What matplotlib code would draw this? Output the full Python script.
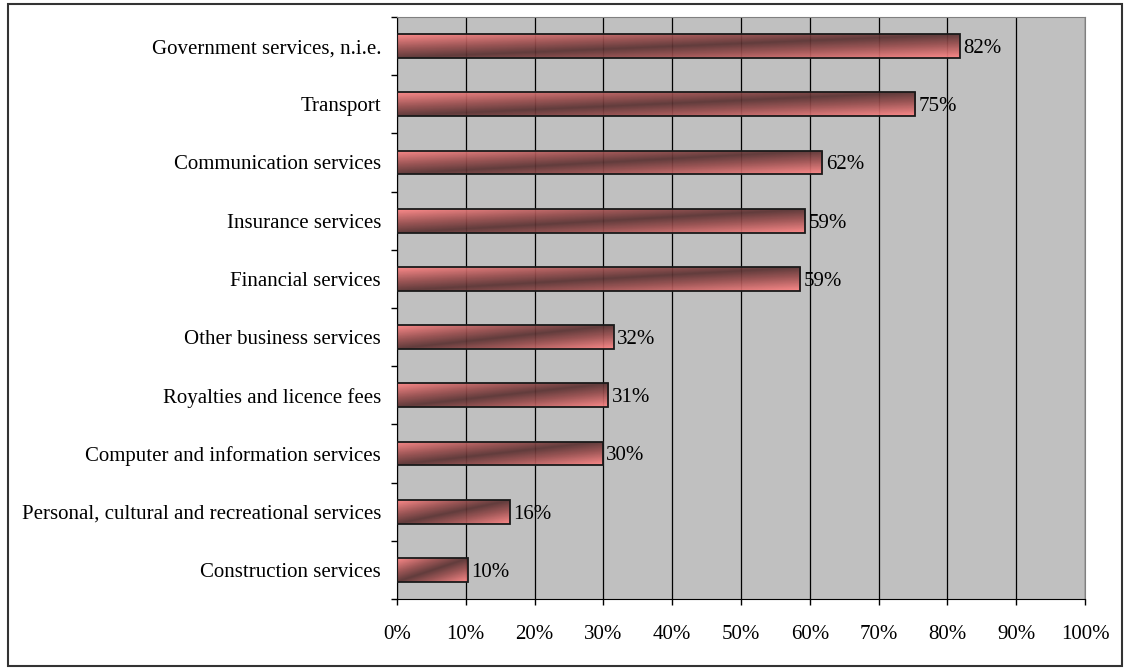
import numpy as np
import matplotlib
matplotlib.use("Agg")
import matplotlib.pyplot as plt
import matplotlib.patches as mpatches
from matplotlib.colors import LinearSegmentedColormap

plt.rcParams["font.family"] = ["Liberation Serif", "DejaVu Serif"]
plt.rcParams["font.size"] = 15

categories = [
    "Government services, n.i.e.",
    "Transport",
    "Communication services",
    "Insurance services",
    "Financial services",
    "Other business services",
    "Royalties and licence fees",
    "Computer and information services",
    "Personal, cultural and recreational services",
    "Construction services",
]
shares = [81.8, 75.3, 61.8, 59.3, 58.6, 31.5, 30.7, 29.9, 16.4, 10.3]
x_ticks = [0, 10, 20, 30, 40, 50, 60, 70, 80, 90, 100]

fig = plt.figure(figsize=(11.24, 6.68), dpi=100)
ax = fig.add_axes([0.3532, 0.1033, 0.6121, 0.8713])
ax.set_facecolor("#C0C0C0")

# frame around the whole figure
fig.patches.append(mpatches.Rectangle((0.007, 0.003), 0.991, 0.991, transform=fig.transFigure,
                                      fill=False, edgecolor="#333333", linewidth=1.5))

n = len(categories)
ypos = np.arange(n)[::-1]
bars = ax.barh(ypos, shares, height=0.41, facecolor="none", edgecolor="#1a1a1a",
               linewidth=1.3, zorder=3)

# diagonal light-dark-light gradient inside each bar
grad_cmap = LinearSegmentedColormap.from_list(
    "bar", [(0.0, "#FF8585"), (0.3, "#9A4E4E"), (0.5, "#5A3232"), (0.7, "#9A4E4E"), (1.0, "#FF8585")])
gx, gy = np.meshgrid(np.linspace(0, 1, 200), np.linspace(0, 1, 40))
grad = (gx + gy) / 2.0
for b in bars:
    x0, y0, w, h = b.get_x(), b.get_y(), b.get_width(), b.get_height()
    im = ax.imshow(grad, cmap=grad_cmap, extent=[x0, x0 + w, y0, y0 + h], origin="upper",
                   aspect="auto", interpolation="bilinear", zorder=2, alpha=0.93)
    im.set_clip_path(b)

for b, v in zip(bars, shares):
    ax.annotate(f"{v:.0f}%", xy=(v, b.get_y() + b.get_height() / 2), xytext=(2.5, 0),
                textcoords="offset points", va="center_baseline", ha="left", zorder=4)

ax.set_xlim(0, 100)
ax.set_ylim(-0.5, n - 0.5)
ax.set_xticks(x_ticks)
ax.set_xticklabels([f"{t}%" for t in x_ticks])
ax.set_yticks(ypos)
ax.set_yticklabels(categories)
ax.set_yticks(np.arange(n + 1) - 0.5, minor=True)
ax.tick_params(axis="y", which="major", length=0, pad=11.5)
ax.tick_params(axis="y", which="minor", length=4.5, width=1, color="black", direction="out")
ax.tick_params(axis="x", which="major", length=4.5, width=1, direction="out", pad=14)
ax.xaxis.grid(True, color="black", linewidth=0.9, zorder=1)
ax.set_axisbelow(True)

for side in ["top", "right"]:
    ax.spines[side].set_color("#808080")
for side in ["left", "bottom"]:
    ax.spines[side].set_color("black")

fig.savefig("out.png", dpi=100)
